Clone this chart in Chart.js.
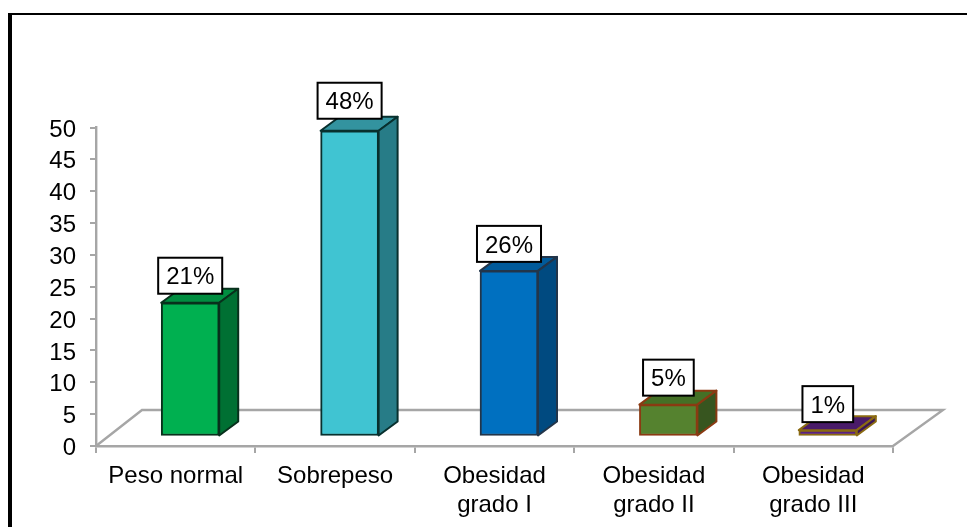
<!DOCTYPE html>
<html>
<head>
<meta charset="utf-8">
<script src="https://cdn.jsdelivr.net/npm/chart.js@4/dist/chart.umd.min.js"></script>
<style>
  html, body { margin: 0; padding: 0; background: #fff; }
  #wrap { position: relative; width: 967px; height: 527px; overflow: hidden; }
  #frame { position: absolute; left: 8px; top: 13px; width: 959px; height: 514px; border-left: 4px solid #000; border-top: 2px solid #000; box-sizing: border-box; pointer-events: none; }
</style>
</head>
<body>
<div id="wrap">
  <canvas id="c" width="967" height="527"></canvas>
  <div id="frame"></div>
</div>
<script>
// Body-mass categories and their share of the sample
const categories = [["Peso normal"], ["Sobrepeso"], ["Obesidad", "grado I"], ["Obesidad", "grado II"], ["Obesidad", "grado III"]];
const values = [21, 48, 26, 5, 1];
const valueLabels = ["21%", "48%", "26%", "5%", "1%"];

// Face colours of each prism
const frontColors = ["#00B050", "#40C4D2", "#0070C0", "#55822F", "#5A2180"];
const topColors = ["#008D40", "#33939F", "#005A9A", "#447026", "#4A1B69"];
const sideColors = ["#007033", "#277C87", "#004A80", "#37551F", "#3B1555"];
const edgeColors = ["#08301C", "#08302E", "#22354A", "#8A3A12", "#8A6A12"];

// Space between each bar's top edge and its value box
const labelGaps = [9, 12, 9, 9, 8];

const FONT = '"Liberation Sans", Arial, sans-serif';
const AXIS_GRAY = "#A6A6A6";

// Oblique projection constants for the floor and the bars
const FLOOR_LEFT = 46, FLOOR_RIGHT = 50, FLOOR_DEPTH = 36;
const BAR_SHIFT_X = 14.5, BAR_SHIFT_Y = 9.5;
const SIDE_DX = 19, SIDE_DY = 14;

function poly(ctx, pts, fill, stroke, lw) {
  ctx.beginPath();
  pts.forEach((p, i) => i ? ctx.lineTo(p[0], p[1]) : ctx.moveTo(p[0], p[1]));
  ctx.closePath();
  ctx.fillStyle = fill;
  ctx.fill();
  ctx.lineJoin = "round";
  ctx.lineWidth = lw;
  ctx.strokeStyle = stroke;
  ctx.stroke();
}

const prismPlugin = {
  id: "prism",
  beforeDatasetsDraw(chart) {
    const { ctx, chartArea: a, scales } = chart;
    ctx.save();

    // Floor plane behind the bars
    ctx.strokeStyle = AXIS_GRAY;
    ctx.lineWidth = 2.4;
    ctx.beginPath();
    ctx.moveTo(a.left, a.bottom);
    ctx.lineTo(a.left + FLOOR_LEFT, a.bottom - FLOOR_DEPTH);
    ctx.lineTo(a.right + FLOOR_RIGHT, a.bottom - FLOOR_DEPTH);
    ctx.lineTo(a.right, a.bottom);
    ctx.stroke();

    // Value axis numbers, set so the digits sit centred on their ticks
    ctx.font = "24px " + FONT;
    ctx.fillStyle = "#000";
    ctx.textAlign = "right";
    ctx.textBaseline = "middle";
    scales.y.ticks.forEach((t, i) => {
      ctx.fillText(t.label, a.left - 20, scales.y.getPixelForTick(i) + 2.5);
    });
    ctx.restore();
  },
  beforeDatasetDraw(chart) {
    // Bars stand in the middle of the floor, not on its front edge
    chart.ctx.save();
    chart.ctx.translate(BAR_SHIFT_X, -BAR_SHIFT_Y);
  },
  afterDatasetDraw(chart, args) {
    const ctx = chart.ctx;
    chart.getDatasetMeta(args.index).data.forEach((bar, i) => {
      const p = bar.getProps(["x", "y", "base", "width"], true);
      const l = p.x - p.width / 2, r = p.x + p.width / 2;
      poly(ctx, [[l, p.y], [l + SIDE_DX, p.y - SIDE_DY], [r + SIDE_DX, p.y - SIDE_DY], [r, p.y]], topColors[i], edgeColors[i], 2);
      poly(ctx, [[r, p.y], [r + SIDE_DX, p.y - SIDE_DY], [r + SIDE_DX, p.base - SIDE_DY], [r, p.base]], sideColors[i], edgeColors[i], 2);
    });
    ctx.restore();
  },
  afterDatasetsDraw(chart) {
    // Boxed percentage above each bar
    const ctx = chart.ctx;
    ctx.save();
    ctx.font = "24px " + FONT;
    ctx.textAlign = "center";
    ctx.textBaseline = "middle";
    chart.getDatasetMeta(0).data.forEach((bar, i) => {
      const p = bar.getProps(["x", "y"], true);
      const cx = p.x + BAR_SHIFT_X, top = p.y - BAR_SHIFT_Y;
      const w = ctx.measureText(valueLabels[i]).width + 16, h = 36;
      const y0 = top - labelGaps[i] - h;
      ctx.fillStyle = "#fff";
      ctx.fillRect(cx - w / 2, y0, w, h);
      ctx.strokeStyle = "#000";
      ctx.lineWidth = 2;
      ctx.strokeRect(cx - w / 2, y0, w, h);
      ctx.fillStyle = "#000";
      ctx.fillText(valueLabels[i], cx, y0 + h / 2 + 2);
    });
    ctx.restore();
  }
};

new Chart(document.getElementById("c"), {
  type: "bar",
  data: {
    labels: categories,
    datasets: [{
      data: values,
      backgroundColor: frontColors,
      borderColor: edgeColors,
      borderWidth: 2,
      borderSkipped: false,
      barThickness: 58,
      clip: false
    }]
  },
  options: {
    responsive: false,
    animation: false,
    layout: { padding: { top: 127.5, right: 74, left: 0, bottom: 0 } },
    plugins: { legend: { display: false }, tooltip: { enabled: false } },
    scales: {
      x: {
        grid: { drawOnChartArea: false, color: AXIS_GRAY, lineWidth: 2, tickLength: 7 },
        border: { color: AXIS_GRAY, width: 2.4 },
        ticks: { color: "#000", font: { family: FONT, size: 24 }, padding: 9, maxRotation: 0, autoSkip: false },
        afterFit(s) { s.height = 81; }
      },
      y: {
        min: 0, max: 50,
        grid: { drawOnChartArea: false, color: AXIS_GRAY, lineWidth: 2, tickLength: 6 },
        border: { color: AXIS_GRAY, width: 2.4 },
        ticks: { display: false, stepSize: 5 },
        afterFit(s) { s.width = 96; }
      }
    }
  },
  plugins: [prismPlugin]
});
</script>
</body>
</html>
